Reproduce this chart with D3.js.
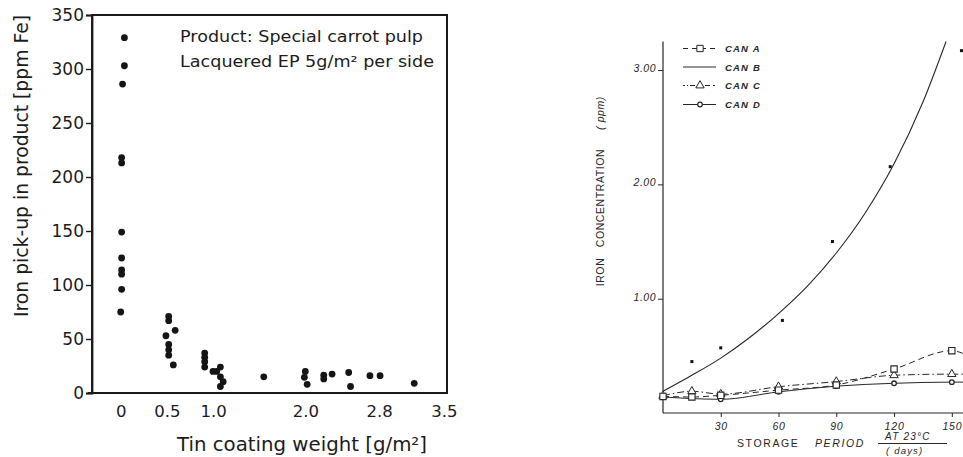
<!DOCTYPE html>
<html>
<head>
<meta charset="utf-8">
<script src="https://cdn.jsdelivr.net/npm/d3@7"></script>
<style>
  body { margin: 0; background: #fff; }
  svg { display: block; }
</style>
</head>
<body>
<svg id="chart" width="963" height="457"></svg>
<script>
// ---------- Left panel: iron pick-up vs. tin coating weight ----------
const tinWeight = [
  0.04, 0.04, 0.02, 0.01, 0.01, 0.01, 0.01, 0.01, 0.01, 0.01, 0.00,
  0.52, 0.52, 0.59, 0.49, 0.52, 0.52, 0.52, 0.57,
  0.91, 0.91, 0.91, 0.91,
  1.00, 1.04, 1.08, 1.08, 1.11, 1.08,
  1.55,
  2.00, 1.99, 2.02,
  2.20, 2.20, 2.29,
  2.47, 2.49,
  2.70, 2.81,
  3.18
];
const ironPickup = [
  329, 303, 286, 218, 213, 149, 125, 114, 110, 96, 75,
  71, 67, 58, 53, 45, 40, 35, 26,
  37, 33, 29, 24,
  20, 20, 24, 15, 10.5, 6,
  15,
  20, 14.5, 8,
  16.5, 13, 17.5,
  19, 6,
  16, 16,
  9
];
const tinTicks = [0, 0.5, 1.0, 2.0, 2.8, 3.5];
const ironTicks = [0, 50, 100, 150, 200, 250, 300, 350];
const noteLines = ["Product:  Special carrot pulp", "Lacquered  EP 5g/m\u00B2 per side"];

// ---------- Right panel: iron concentration vs. storage period ----------
const storageTicks = [30, 60, 90, 120, 150];
const concTicks = [1, 2, 3];
const concTickLabels = ["1.00", "2.00", "3.00"];

const canADays = [0, 15, 30, 60, 90, 120, 150];
const canAVals = [0.145, 0.14, 0.155, 0.20, 0.245, 0.385, 0.545];
const canCDays = [0, 15, 30, 60, 90, 120, 150];
const canCVals = [0.15, 0.19, 0.165, 0.23, 0.275, 0.33, 0.34];
const canDDays = [0, 30, 60, 90, 120, 150];
const canDVals = [0.14, 0.12, 0.185, 0.235, 0.26, 0.27];
// continuation of the A, C, D lines to the plot's right edge
const tailDay = 156;
const canATail = 0.52, canCTail = 0.34, canDTail = 0.27;

// CAN B: measured points and fitted curve
const canBDays = [15, 30, 62, 88, 118, 155];
const canBVals = [0.45, 0.57, 0.81, 1.50, 2.155, 3.17];
const canBFitDays = [0, 15, 30, 45, 60, 75, 90, 105, 120, 135, 147];
const canBFitVals = [0.19, 0.33, 0.48, 0.66, 0.87, 1.11, 1.40, 1.75, 2.18, 2.72, 3.25];

const legendNames = ["CAN  A", "CAN  B", "CAN  C", "CAN  D"];

const svg = d3.select("#chart");
const ink = "#1c1c1c";

// ================= LEFT PANEL =================
const L = { left: 92, right: 447, top: 15, bottom: 393 };
const xL = d3.scaleLinear().domain([-0.311, 3.535]).range([L.left, L.right]);
const yL = d3.scaleLinear().domain([0, 350]).range([L.bottom, L.top]);

const left = svg.append("g").attr("font-family", "DejaVu Sans, sans-serif");

// y axis
const yAxisL = d3.axisLeft(yL).tickValues(ironTicks).tickSize(6).tickPadding(2).tickFormat(d3.format("d"));
const gyL = left.append("g").attr("transform", `translate(${L.left},0)`).call(yAxisL);
gyL.select(".domain").attr("stroke", ink).attr("stroke-width", 1.8);
gyL.selectAll(".tick line").attr("stroke", ink).attr("stroke-width", 1.4);
gyL.selectAll(".tick text").attr("font-size", 17).attr("fill", ink).attr("font-family", "DejaVu Sans, sans-serif");

// x axis (no tick marks)
const xAxisL = d3.axisBottom(xL).tickValues(tinTicks).tickSize(0).tickPadding(12)
  .tickFormat(d => d === 0 ? "0" : d3.format(".1f")(d));
const gxL = left.append("g").attr("transform", `translate(0,${L.bottom})`).call(xAxisL);
gxL.select(".domain").attr("d", `M${L.left - 4},0H${L.right}`).attr("stroke", ink).attr("stroke-width", 1.8);
gxL.selectAll(".tick text").attr("font-size", 16.5).attr("fill", ink).attr("font-family", "DejaVu Sans, sans-serif");

// points
left.append("g").selectAll("circle")
  .data(tinWeight.map((w, i) => [w, ironPickup[i]]))
  .join("circle")
  .attr("cx", d => xL(d[0]))
  .attr("cy", d => yL(d[1]))
  .attr("r", 3.4)
  .attr("fill", "#151515");

// note
left.append("g").attr("fill", ink).selectAll("text").data(noteLines).join("text")
  .attr("x", 180)
  .attr("y", (d, i) => 42 + i * 25)
  .attr("font-size", 15)
  .attr("textLength", (d, i) => i === 0 ? 243 : 254)
  .attr("lengthAdjust", "spacingAndGlyphs")
  .text(d => d);

// axis titles
left.append("text")
  .attr("x", 302).attr("y", 451)
  .attr("text-anchor", "middle").attr("fill", ink)
  .attr("font-size", 19)
  .attr("textLength", 250).attr("lengthAdjust", "spacingAndGlyphs")
  .text("Tin coating weight [g/m\u00B2]");

left.append("text")
  .attr("transform", "translate(28,166) rotate(-90)")
  .attr("text-anchor", "middle").attr("fill", ink)
  .attr("font-size", 19)
  .attr("textLength", 302).attr("lengthAdjust", "spacingAndGlyphs")
  .text("Iron pick-up in product [ppm Fe]");

// ================= RIGHT PANEL =================
const R = { left: 663, right: 963, top: 41.5, bottom: 413 };
const xR = d3.scaleLinear().domain([0, 155.8]).range([R.left, R.right]);
const yR = d3.scaleLinear().domain([0, 3.25]).range([R.bottom, R.top]);
const rInk = "#262626";
const rFont = "Liberation Sans, Arial, sans-serif";

const right = svg.append("g").attr("font-family", rFont).attr("fill", rInk);

// axes
const yAxisR = d3.axisLeft(yR).tickValues(concTicks).tickSize(5).tickPadding(2)
  .tickFormat((d, i) => concTickLabels[i]);
const gyR = right.append("g").attr("transform", `translate(${R.left},0)`).call(yAxisR);
gyR.select(".domain").attr("d", `M0,${R.top}V${R.bottom}`).attr("stroke", rInk).attr("stroke-width", 1.2);
gyR.selectAll(".tick line").attr("stroke", rInk);
gyR.selectAll(".tick text").attr("font-size", 10.5).attr("font-style", "italic")
  .attr("letter-spacing", 0.5)
  .attr("fill", rInk).attr("font-family", rFont).attr("dy", "0.15em");

const xAxisR = d3.axisBottom(xR).tickValues(storageTicks).tickSize(4).tickPadding(6);
const gxR = right.append("g").attr("transform", `translate(0,${R.bottom})`).call(xAxisR);
gxR.select(".domain").attr("d", `M${R.left},0H${R.right}`).attr("stroke", rInk).attr("stroke-width", 1.2);
gxR.selectAll(".tick line").attr("stroke", rInk);
gxR.selectAll(".tick text").attr("font-size", 10.5).attr("font-style", "italic")
  .attr("fill", rInk).attr("font-family", rFont).attr("letter-spacing", 0.8);

const lineGen = d3.line().x(d => xR(d[0])).y(d => yR(d[1])).curve(d3.curveMonotoneX);
const plot = right.append("g");

const zip = (a, b) => a.map((v, i) => [v, b[i]]);
const canA = zip(canADays, canAVals);
const canC = zip(canCDays, canCVals);
const canD = zip(canDDays, canDVals);

// CAN D: solid
plot.append("path").attr("d", lineGen(canD.concat([[tailDay, canDTail]])))
  .attr("fill", "none").attr("stroke", rInk).attr("stroke-width", 1);
// CAN C: dash-dot
plot.append("path").attr("d", lineGen(canC.concat([[tailDay, canCTail]])))
  .attr("fill", "none").attr("stroke", rInk).attr("stroke-width", 1)
  .attr("stroke-dasharray", "7,3,1.5,3");
// CAN A: dashed
plot.append("path").attr("d", lineGen(canA.concat([[tailDay, canATail]])))
  .attr("fill", "none").attr("stroke", rInk).attr("stroke-width", 1)
  .attr("stroke-dasharray", "6,4");
// CAN B: fitted curve
plot.append("path").attr("d", lineGen(zip(canBFitDays, canBFitVals)))
  .attr("fill", "none").attr("stroke", rInk).attr("stroke-width", 1.1);

// markers
const sq = d3.symbol().type(d3.symbolSquare).size(40);
const tri = d3.symbol().type(d3.symbolTriangle).size(30);
plot.append("g").selectAll("circle").data(canD).join("circle")
  .attr("cx", d => xR(d[0])).attr("cy", d => yR(d[1])).attr("r", 2.3)
  .attr("fill", "#fff").attr("stroke", rInk).attr("stroke-width", 1.3);
plot.append("g").selectAll("path").data(canC).join("path")
  .attr("d", tri).attr("transform", d => `translate(${xR(d[0])},${yR(d[1])})`)
  .attr("fill", "#fff").attr("stroke", rInk).attr("stroke-width", 1);
plot.append("g").selectAll("path").data(canA).join("path")
  .attr("d", sq).attr("transform", d => `translate(${xR(d[0])},${yR(d[1])})`)
  .attr("fill", "#fff").attr("stroke", rInk).attr("stroke-width", 1.1);
plot.append("g").selectAll("rect").data(zip(canBDays, canBVals)).join("rect")
  .attr("x", d => xR(d[0]) - 1.5).attr("y", d => yR(d[1]) - 1.5)
  .attr("width", 3).attr("height", 3).attr("fill", "#111");

// legend
const legRows = [48.5, 67, 85.5, 104.5];
const leg = right.append("g");
legendNames.forEach((name, i) => {
  const y = legRows[i];
  const ln = leg.append("line").attr("x1", 683).attr("x2", 716).attr("y1", y).attr("y2", y)
    .attr("stroke", rInk).attr("stroke-width", 1);
  if (i === 0) ln.attr("stroke-dasharray", "5,4");
  if (i === 2) ln.attr("stroke-dasharray", "2,2,1,2,5,3");
  if (i === 0) leg.append("path").attr("d", sq).attr("transform", `translate(700,${y})`)
    .attr("fill", "#fff").attr("stroke", rInk).attr("stroke-width", 1);
  if (i === 2) leg.append("path").attr("d", tri).attr("transform", `translate(700,${y})`)
    .attr("fill", "#fff").attr("stroke", rInk).attr("stroke-width", 1);
  if (i === 3) leg.append("circle").attr("cx", 700).attr("cy", y).attr("r", 2.3)
    .attr("fill", "#fff").attr("stroke", rInk).attr("stroke-width", 1.2);
  leg.append("text").attr("x", 725).attr("y", y + 3.5)
    .attr("font-size", 9.5).attr("font-style", "italic").attr("font-weight", "bold")
    .attr("letter-spacing", 1.2)
    .text(name);
});

// y-axis title, in three pieces along the axis
const yTitle = [["IRON", 272], ["CONCENTRATION", 198], ["( ppm)", 113]];
right.append("g").selectAll("text").data(yTitle).join("text")
  .attr("transform", d => `translate(604,${d[1]}) rotate(-90)`)
  .attr("text-anchor", "middle")
  .attr("font-size", 10.5).attr("letter-spacing", 0.6)
  .attr("font-style", (d, i) => i === 2 ? "italic" : "normal")
  .text(d => d[0]);

// x-axis title
right.append("text").attr("x", 737).attr("y", 446.5)
  .attr("font-size", 10.5).attr("letter-spacing", 1.6).text("STORAGE");
right.append("text").attr("x", 815).attr("y", 446.5)
  .attr("font-size", 10.5).attr("font-style", "italic").attr("letter-spacing", 1.6).text("PERIOD");
right.append("text").attr("x", 885).attr("y", 440)
  .attr("font-size", 10).attr("font-style", "italic").attr("letter-spacing", 1.2).text("AT 23\u00B0C");
right.append("line").attr("x1", 878).attr("x2", 947).attr("y1", 443.5).attr("y2", 443.5)
  .attr("stroke", rInk).attr("stroke-width", 1);
right.append("text").attr("x", 886).attr("y", 453.5)
  .attr("font-size", 9.5).attr("font-style", "italic").attr("letter-spacing", 1.2).text("( days)");

// left panel frame, drawn last so it sits on top
svg.append("rect")
  .attr("x", xL.range()[0]).attr("y", yL.range()[1])
  .attr("width", xL.range()[1] - xL.range()[0])
  .attr("height", yL.range()[0] - yL.range()[1])
  .attr("fill", "none")
  .attr("stroke", "#1a1a1a")
  .attr("stroke-width", 2);
</script>
</body>
</html>
